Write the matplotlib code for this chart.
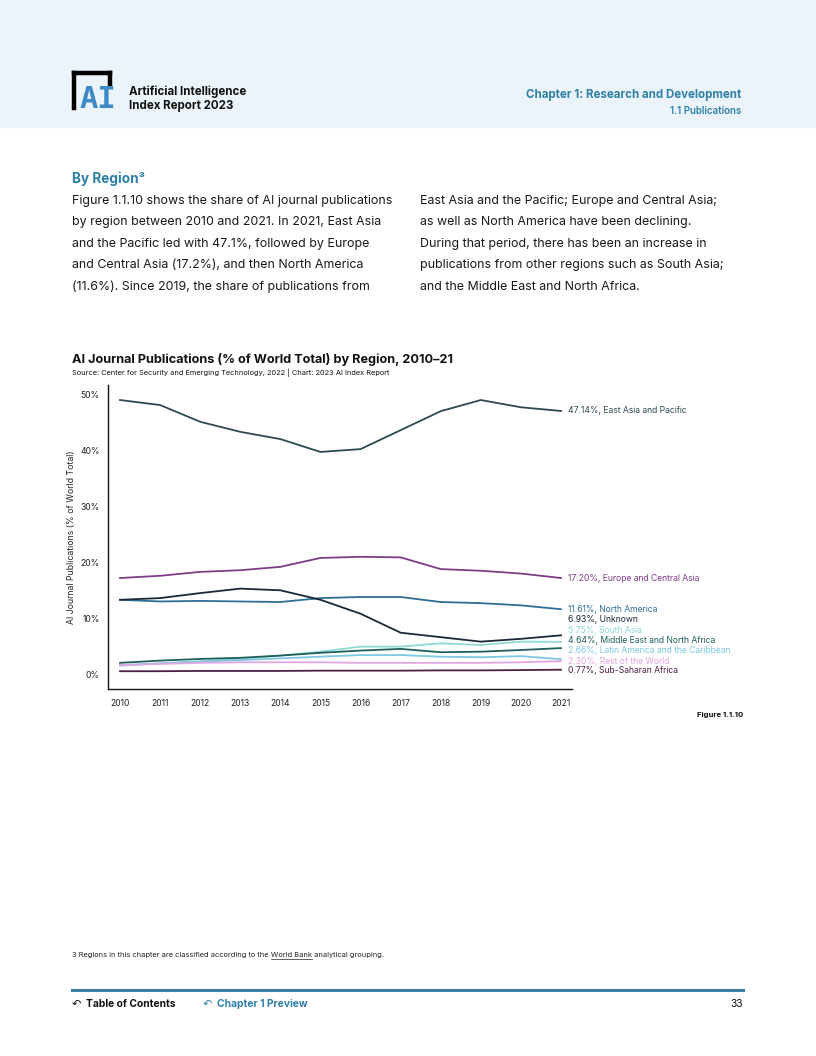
import matplotlib
matplotlib.use("Agg")
import matplotlib.pyplot as plt
from matplotlib.patches import Rectangle
from matplotlib.lines import Line2D

plt.rcParams['font.family'] = ['Inter', 'DejaVu Sans']

years = list(range(2010, 2022))
regions = ["East Asia and Pacific", "Europe and Central Asia", "North America", "Unknown",
           "South Asia", "Middle East and North Africa", "Latin America and the Caribbean",
           "Rest of the World", "Sub-Saharan Africa"]
east_asia = [49.1, 48.2, 45.2, 43.4, 42.1, 39.8, 40.3, 43.7, 47.1, 49.1, 47.8, 47.14]
europe = [17.2, 17.6, 18.3, 18.6, 19.2, 20.8, 21.0, 20.9, 18.8, 18.5, 18.0, 17.20]
north_america = [13.3, 13.0, 13.1, 13.0, 12.9, 13.6, 13.8, 13.8, 12.9, 12.7, 12.3, 11.61]
unknown = [13.3, 13.6, 14.5, 15.3, 15.0, 13.3, 10.8, 7.4, 6.6, 5.8, 6.3, 6.93]
south_asia = [1.6, 1.9, 2.3, 2.7, 3.3, 4.0, 4.9, 4.9, 5.5, 5.2, 5.8, 5.75]
mena = [2.0, 2.4, 2.7, 2.9, 3.3, 3.8, 4.2, 4.5, 3.9, 4.0, 4.3, 4.64]
latin_america = [1.5, 1.9, 2.2, 2.5, 2.8, 3.1, 3.4, 3.4, 3.1, 3.0, 3.2, 2.66]
rest_world = [1.6, 1.8, 2.0, 2.1, 2.1, 2.1, 2.0, 2.0, 2.0, 2.0, 2.1, 2.30]
sub_saharan = [0.5, 0.5, 0.55, 0.55, 0.55, 0.6, 0.6, 0.6, 0.65, 0.65, 0.7, 0.77]
yticks = [0, 10, 20, 30, 40, 50]

series = [east_asia, europe, north_america, unknown, south_asia, mena,
          latin_america, rest_world, sub_saharan]
colors = ["#2d4a50", "#7d3c86", "#2e6f96", "#1b2838", "#8fd9d6", "#1f5f5c",
          "#7ec8e3", "#e0a6e0", "#4d1f45"]
label_y = [47.14, 17.2, 11.61, 9.7, 7.85, 6.0, 4.15, 2.3, 0.55]

W, H = 816, 1056
fig = plt.figure(figsize=(W / 100, H / 100), dpi=100)

def fx(x): return x / W
def fy(y): return 1 - y / H

# header band
fig.patches.append(Rectangle((0, fy(127)), 1, 127 / H, transform=fig.transFigure,
                             color="#ecf4fb", zorder=0))
# logo
for (x0, y0, x1, y1) in [(74, 73, 110, 73), (74, 73, 74, 108), (110, 73, 110, 86)]:
    fig.add_artist(Line2D([fx(x0), fx(x1)], [fy(y0), fy(y1)], color="black", lw=3.2,
                          transform=fig.transFigure, solid_capstyle="projecting"))
fig.text(fx(79), fy(100), "AI", fontsize=22, fontweight="bold", color="#3d8ac6",
         family="DejaVu Sans Mono", va="center", ha="left")
fig.text(fx(129), fy(92), "Artificial Intelligence", fontsize=8.3, fontweight="bold",
         color="#111111", va="center")
fig.text(fx(129), fy(106), "Index Report 2023", fontsize=8.3, fontweight="bold",
         color="#111111", va="center")
fig.text(fx(741), fy(95), "Chapter 1: Research and Development", fontsize=8.3,
         fontweight="bold", color="#2f80a8", ha="right", va="center")
fig.text(fx(741), fy(111), "1.1 Publications", fontsize=7.0, fontweight="semibold",
         color="#2f80a8", ha="right", va="center")

# section heading and body
fig.text(fx(72), fy(179), "By Region³", fontsize=9.8, fontweight="bold",
         color="#2f80a8", va="center")
left_lines = ["Figure 1.1.10 shows the share of AI journal publications",
              "by region between 2010 and 2021. In 2021, East Asia",
              "and the Pacific led with 47.1%, followed by Europe",
              "and Central Asia (17.2%), and then North America",
              "(11.6%). Since 2019, the share of publications from"]
right_lines = ["East Asia and the Pacific; Europe and Central Asia;",
               "as well as North America have been declining.",
               "During that period, there has been an increase in",
               "publications from other regions such as South Asia;",
               "and the Middle East and North Africa."]
for i, (l, r) in enumerate(zip(left_lines, right_lines)):
    y = 201 + i * 21.4
    fig.text(fx(72), fy(y), l, fontsize=8.95, color="#1a1a1a", va="center")
    fig.text(fx(420), fy(y), r, fontsize=8.95, color="#1a1a1a", va="center")

# chart title
fig.text(fx(72), fy(360), "AI Journal Publications (% of World Total) by Region, 2010–21",
         fontsize=9.15, fontweight="bold", color="#111111", va="center")
fig.text(fx(72), fy(373), "Source: Center for Security and Emerging Technology, 2022 | Chart: 2023 AI Index Report",
         fontsize=5.3, color="#111111", va="center")

# axes
ax_l, ax_r, ax_t, ax_b = 108, 572, 385, 689
ax = fig.add_axes([fx(ax_l), fy(ax_b), (ax_r - ax_l) / W, (ax_b - ax_t) / H])
for s, c in zip(series, colors):
    ax.plot(years, s, color=c, lw=1.3, solid_joinstyle="round")
ax.set_xlim(2009.7, 2010 + (ax_r - 120) / 40.09)
ax.set_ylim(-(689 - 674) / 5.58, (674 - 385) / 5.58)
ax.set_xticks(years)
ax.set_xticklabels([str(y) for y in years])
ax.set_yticks(yticks)
ax.set_yticklabels([f"{v}%" for v in yticks])
ax.tick_params(length=0, labelsize=6.2, colors="#222222", pad=6)
ax.tick_params(axis="x", pad=7)
for sp in ["top", "right"]:
    ax.spines[sp].set_visible(False)
for sp in ["left", "bottom"]:
    ax.spines[sp].set_linewidth(1.0)
    ax.spines[sp].set_color("#111111")
ax.set_ylabel("AI Journal Publications (% of World Total)", fontsize=6.3, color="#222222",
              labelpad=3)
ax.patch.set_alpha(0)

for name, s, c, ly in zip(regions, series, colors, label_y):
    ax.annotate(f"{s[-1]:.2f}%, {name}", xy=(2021, ly), xytext=(5, 0),
                textcoords="offset points", fontsize=6.2, color=c, va="center",
                ha="left", annotation_clip=False)

fig.text(fx(743), fy(715), "Figure 1.1.10", fontsize=5.6, fontweight="bold",
         color="#111111", ha="right", va="center")

# footnote
FS = 5.35
fn = fig.text(fx(72), fy(955), "3 Regions in this chapter are classified according to the ",
              fontsize=FS, color="#222222", va="center")
fig.canvas.draw()
bb = fn.get_window_extent()
wb = fig.text(bb.x1 / W, fy(955), "World Bank",
              fontsize=FS, color="#222222", va="center")
fig.canvas.draw()
bb2 = wb.get_window_extent()
fig.add_artist(Line2D([bb2.x0 / W, bb2.x1 / W], [fy(959), fy(959)], lw=0.5,
                      color="#222222", transform=fig.transFigure))
fig.text(bb2.x1 / W, fy(955), " analytical grouping.", fontsize=FS, color="#222222",
         va="center")

# bottom rule and nav
fig.add_artist(Line2D([fx(72), fx(743)], [fy(990), fy(990)], lw=2.2, color="#3b7fa3",
                      transform=fig.transFigure))
fig.text(fx(72), fy(1004), "↶", fontsize=8, color="#111111", va="center",
         family="DejaVu Sans")
fig.text(fx(86), fy(1004), "Table of Contents", fontsize=7.4, fontweight="bold",
         color="#111111", va="center")
fig.text(fx(203), fy(1004), "↶", fontsize=8, color="#2f80a8", va="center",
         family="DejaVu Sans")
fig.text(fx(217), fy(1004), "Chapter 1 Preview", fontsize=7.4, fontweight="bold",
         color="#2f80a8", va="center")
fig.text(fx(743), fy(1004), "33", fontsize=7.4, color="#111111", ha="right", va="center")

fig.savefig("out.png", dpi=100)
